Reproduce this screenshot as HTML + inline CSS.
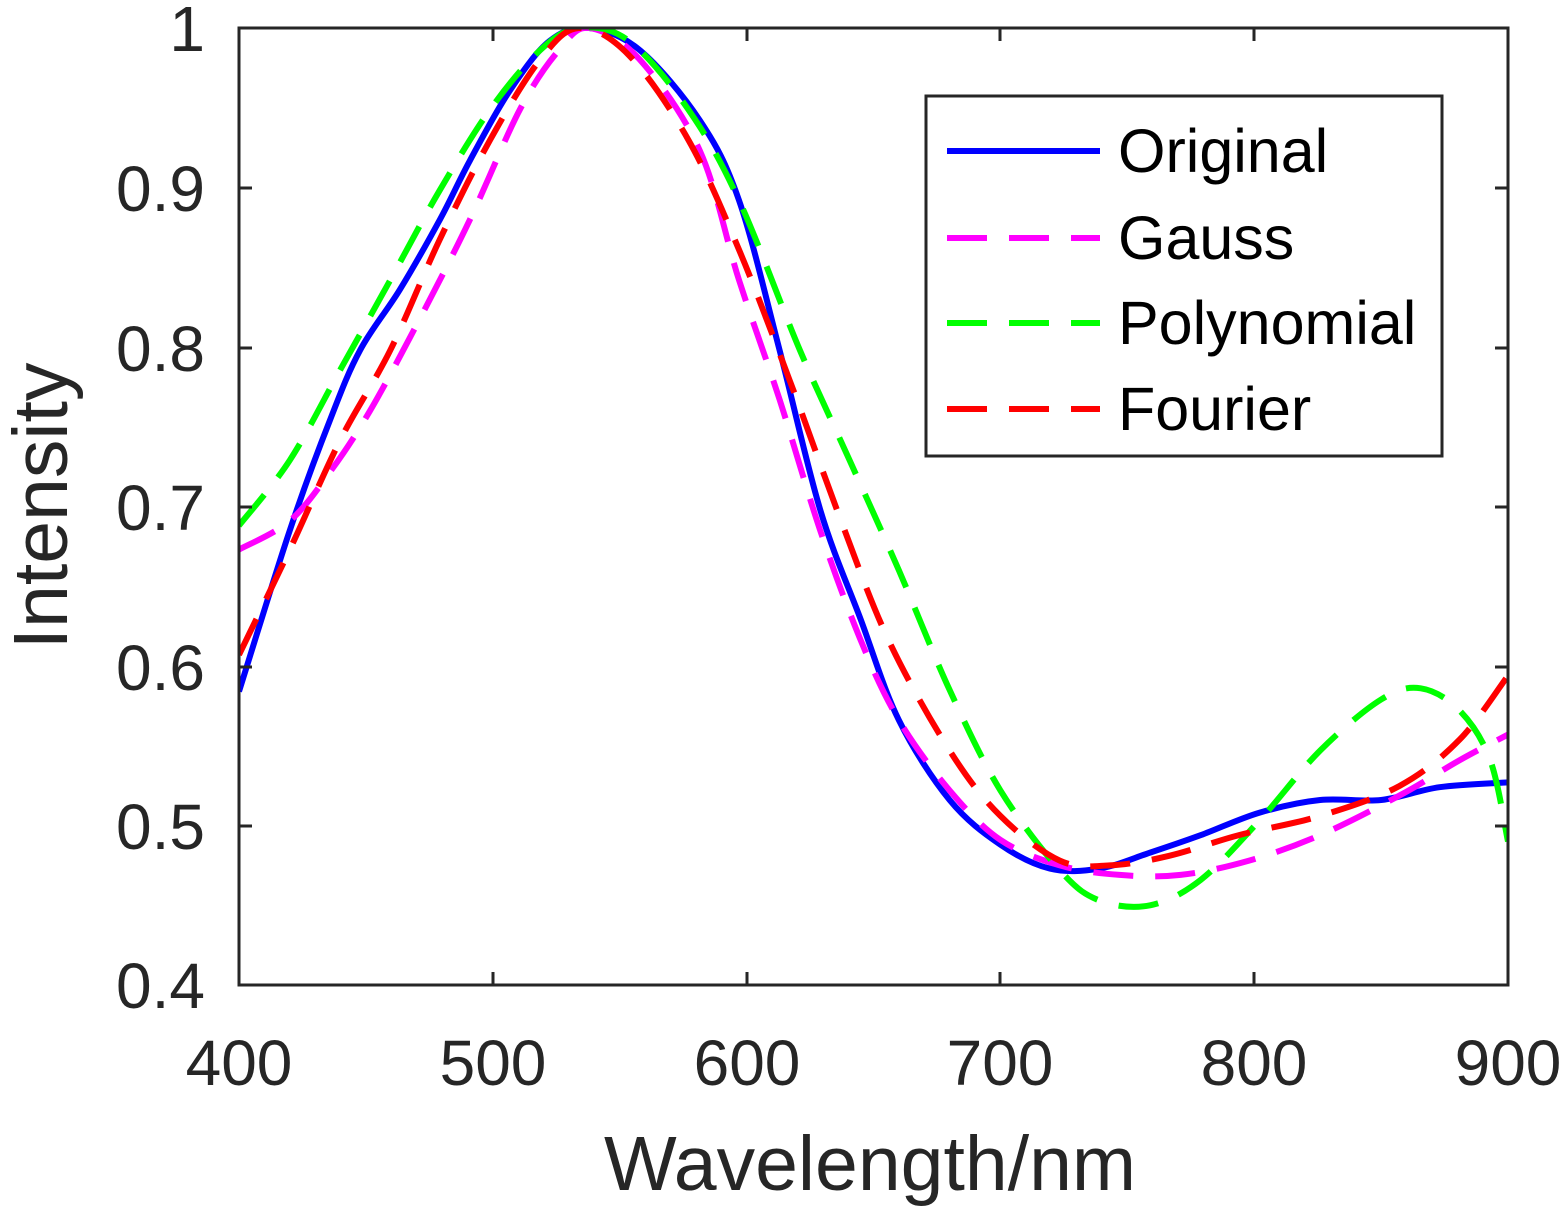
<!DOCTYPE html>
<html><head><meta charset="utf-8"><style>body{margin:0;background:#fff}svg{display:block}</style></head><body>
<svg id="s" width="1566" height="1213" xmlns="http://www.w3.org/2000/svg" font-family="Liberation Sans, Arial, sans-serif">
<rect width="1566" height="1213" fill="#fff"/>
<defs><clipPath id="c"><rect x="239" y="28" width="1269" height="957"/></clipPath></defs>
<g clip-path="url(#c)" fill="none" stroke-linejoin="round" stroke-width="6">
<path id="pb" stroke="#0000ff"/>
<path id="pm" stroke="#ff00ff" stroke-dasharray="40,22"/>
<path id="pg" stroke="#00ff00" stroke-dasharray="40,22"/>
<path id="pr" stroke="#ff0000" stroke-dasharray="40,22"/>
</g>
<rect x="239" y="28" width="1269" height="957" fill="none" stroke="#262626" stroke-width="3"/>
<g stroke="#262626" stroke-width="3">
<path d="M493 985v-13M747 985v-13M1000 985v-13M1254 985v-13M493 28v13M747 28v13M1000 28v13M1254 28v13"/>
<path d="M239 826h13M239 667h13M239 507h13M239 348h13M239 188h13M1508 826h-13M1508 667h-13M1508 507h-13M1508 348h-13M1508 188h-13"/>
</g>
<g font-size="64" fill="#262626" text-anchor="end">
<text x="205" y="51">1</text><text x="205" y="211">0.9</text><text x="205" y="371">0.8</text><text x="205" y="530">0.7</text><text x="205" y="690">0.6</text><text x="205" y="849">0.5</text><text x="205" y="1008">0.4</text>
</g>
<g font-size="64" fill="#262626" text-anchor="middle">
<text x="239" y="1085">400</text><text x="493" y="1085">500</text><text x="747" y="1085">600</text><text x="1000" y="1085">700</text><text x="1254" y="1085">800</text><text x="1508" y="1085">900</text>
</g>
<text x="870" y="1190" font-size="77" fill="#262626" text-anchor="middle">Wavelength/nm</text>
<text transform="translate(67,506) rotate(-90)" font-size="77" fill="#262626" text-anchor="middle">Intensity</text>
<rect x="926" y="96" width="516" height="360" fill="#fff" stroke="#262626" stroke-width="3"/>
<g stroke-width="6">
<path d="M947 151h153" stroke="#0000ff"/>
<path d="M947 238h153" stroke="#ff00ff" stroke-dasharray="40,22"/>
<path d="M947 323h153" stroke="#00ff00" stroke-dasharray="40,22"/>
<path d="M947 409h153" stroke="#ff0000" stroke-dasharray="40,22"/>
</g>
<g font-size="61" fill="#000">
<text x="1118" y="172">Original</text><text x="1118" y="259">Gauss</text><text x="1118" y="344">Polynomial</text><text x="1118" y="430">Fourier</text>
</g>
</svg>
<script>
var D={
pb:[400,0.584,420,0.685,435.8,0.754,447.7,0.798,463.4,0.836,479.2,0.88,491,0.917,506.8,0.961,522.5,0.992,538,1,558,0.986,581.6,0.942,597,0.892,613,0.798,629,0.698,645,0.629,660,0.566,680,0.516,700,0.488,719.5,0.473,739,0.473,759,0.483,779,0.494,802,0.508,826,0.516,850,0.516,873,0.524,900,0.527],
pm:[400,0.673,420,0.691,436,0.722,451.6,0.76,471,0.817,491,0.88,510.7,0.949,526,0.986,538,1,558,0.98,581.6,0.923,597,0.842,613,0.767,629,0.685,645,0.616,660,0.566,680,0.522,700,0.491,723.4,0.475,747,0.469,771,0.469,798,0.478,826,0.494,857.5,0.519,881,0.541,900,0.557],
pg:[400,0.688,420,0.729,440,0.786,459.6,0.842,479,0.898,499,0.949,518.6,0.986,534,1,553.6,0.992,577,0.949,597,0.892,621,0.798,640.6,0.729,660,0.66,680,0.585,700,0.522,723.4,0.472,739,0.453,759,0.45,779,0.466,802,0.503,826,0.547,850,0.579,865.6,0.586,881,0.572,893,0.541,900,0.49],
pr:[400,0.607,420,0.673,440,0.742,459.6,0.798,479,0.867,499,0.93,518.6,0.98,534,1,553.6,0.983,577,0.93,597,0.861,617,0.779,637,0.692,656,0.616,680,0.547,700,0.506,723.4,0.478,743,0.475,766.5,0.481,794,0.494,826,0.506,857.5,0.525,881,0.554,900,0.594]};
for(var k in D){var a=D[k],p=[];for(var i=0;i<a.length;i+=2)p.push([239+(a[i]-400)*2.538,28+(1-a[i+1])*1595]);
var d="M"+p[0][0].toFixed(1)+" "+p[0][1].toFixed(1);
for(var i=0;i<p.length-1;i++){var p0=p[i-1]||p[i],p1=p[i],p2=p[i+1],p3=p[i+2]||p2;
var c1=[p1[0]+(p2[0]-p0[0])/6,p1[1]+(p2[1]-p0[1])/6],c2=[p2[0]-(p3[0]-p1[0])/6,p2[1]-(p3[1]-p1[1])/6];
d+="C"+c1[0].toFixed(1)+" "+c1[1].toFixed(1)+" "+c2[0].toFixed(1)+" "+c2[1].toFixed(1)+" "+p2[0].toFixed(1)+" "+p2[1].toFixed(1);}
document.getElementById(k).setAttribute("d",d);}
</script>
</body></html>
